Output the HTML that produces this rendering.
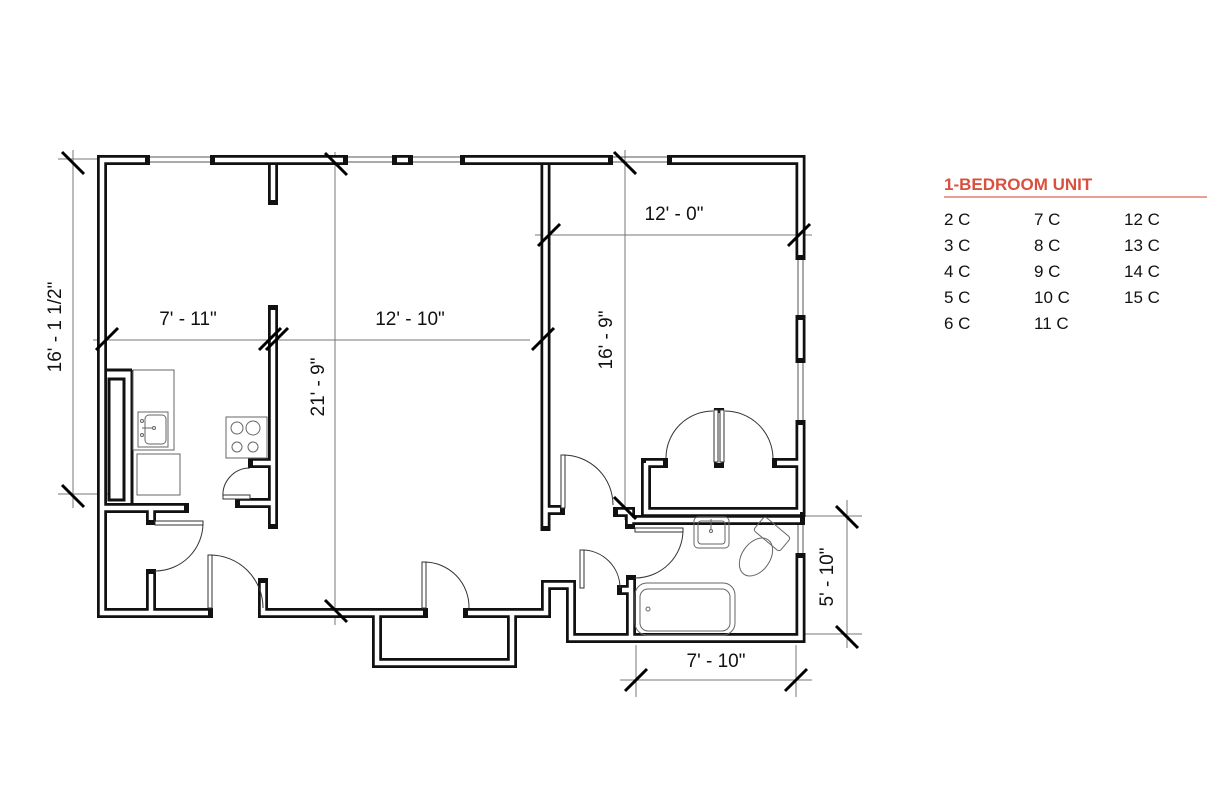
<!DOCTYPE html>
<html><head><meta charset="utf-8"><style>
html,body{margin:0;padding:0;background:#fff;}
svg{display:block;}
text{font-family:"Liberation Sans",sans-serif;}
</style></head><body>
<svg width="1228" height="794" viewBox="0 0 1228 794" xmlns="http://www.w3.org/2000/svg">
<rect width="1228" height="794" fill="#fff"/>
<!-- dimension lines -->
<g stroke="#777" stroke-width="1" fill="none">
<line x1="73" y1="150" x2="73" y2="508"/>
<line x1="58" y1="159" x2="100" y2="159"/>
<line x1="58" y1="494" x2="108" y2="494"/>
<line x1="93" y1="340" x2="530" y2="340"/>
<line x1="335" y1="152" x2="335" y2="625"/>
<line x1="535" y1="235" x2="812" y2="235"/>
<line x1="625" y1="150" x2="625" y2="520"/>
<line x1="847" y1="500" x2="847" y2="648"/>
<line x1="805" y1="516" x2="862" y2="516"/>
<line x1="805" y1="634" x2="862" y2="634"/>
<line x1="620" y1="680" x2="812" y2="680"/>
<line x1="636" y1="645" x2="636" y2="697"/>
<line x1="796" y1="645" x2="796" y2="697"/>
</g>
<!-- windows -->
<g stroke="#555" stroke-width="1" fill="none">
<line x1="145" y1="157" x2="215" y2="157"/><line x1="145" y1="162" x2="215" y2="162"/>
<line x1="343" y1="157" x2="465" y2="157"/><line x1="343" y1="162" x2="465" y2="162"/>
<line x1="608" y1="157" x2="672" y2="157"/><line x1="608" y1="162" x2="672" y2="162"/>
<line x1="798" y1="255" x2="798" y2="425"/><line x1="803" y1="255" x2="803" y2="425"/>
<line x1="798" y1="517" x2="798" y2="558"/><line x1="803" y1="517" x2="803" y2="558"/>
</g>
<!-- walls -->
<g id="walls" fill="none" stroke-linejoin="miter">
<g stroke="#111" stroke-width="10" stroke-linecap="square">
<path d="M145 160 H102 V613 H208"/>
<path d="M215 160 H343"/>
<path d="M397 160 H408"/>
<path d="M465 160 H608"/>
<path d="M672 160 H800.5 V255"/>
<path d="M800.5 320 V358"/>
<path d="M800.5 425 V512"/>
<path d="M800.5 558 V638 H571 V585 H546 V613 H468"/>
<path d="M423 613 H263 V583"/>
<path d="M377 613 V663 H512 V613"/>
<path d="M273 165 V200"/>
<path d="M273 310 V524"/>
<path d="M273 463 H253"/>
<path d="M273 503 H240"/>
<path d="M545.5 165 V526"/>
<path d="M545.5 510 H560"/>
<path d="M102 508 H184"/>
<path d="M151 508 V520"/>
<path d="M151 574 V613"/>
<path d="M646 463 H663"/>
<path d="M646 463 V512 H800"/>
<path d="M777 463 H800"/>
<path d="M719 413 V463"/>
<path d="M618 512 H630 V524"/>
<path d="M630 520 H800"/>
<path d="M631 580 V638"/>
<path d="M622 590 H631"/>
</g>
<g stroke="#fff" stroke-width="4.5" stroke-linecap="butt">
<path d="M145 160 H102 V613 H208"/>
<path d="M215 160 H343"/>
<path d="M397 160 H408"/>
<path d="M465 160 H608"/>
<path d="M672 160 H800.5 V255"/>
<path d="M800.5 320 V358"/>
<path d="M800.5 425 V512"/>
<path d="M800.5 558 V638 H571 V585 H546 V613 H468"/>
<path d="M423 613 H263 V583"/>
<path d="M377 613 V663 H512 V613"/>
<path d="M273 165 V200"/>
<path d="M273 310 V524"/>
<path d="M273 463 H253"/>
<path d="M273 503 H240"/>
<path d="M545.5 165 V526"/>
<path d="M545.5 510 H560"/>
<path d="M102 508 H184"/>
<path d="M151 508 V520"/>
<path d="M151 574 V613"/>
<path d="M646 463 H663"/>
<path d="M646 463 V512 H800"/>
<path d="M777 463 H800"/>
<path d="M719 413 V463"/>
<path d="M618 512 H630 V524"/>
<path d="M630 520 H800"/>
<path d="M631 580 V638"/>
<path d="M622 590 H631"/>
</g>
</g>
<!-- kitchen pocket -->
<rect x="109" y="379" width="15" height="121" fill="#fff" stroke="#111" stroke-width="3"/>
<line x1="132" y1="370" x2="132" y2="505" stroke="#111" stroke-width="3"/>
<line x1="107" y1="370" x2="132" y2="370" stroke="#111" stroke-width="3"/>
<!-- fixtures -->
<g fill="none" stroke="#666" stroke-width="1">
<rect x="133" y="370" width="41" height="80"/>
<rect x="138" y="412" width="30" height="35"/>
<rect x="145" y="415" width="21" height="29" rx="4"/>
<circle cx="142" cy="421" r="1.5"/><circle cx="142" cy="435" r="1.5"/><circle cx="154" cy="428" r="1.5"/>
<line x1="142" y1="428" x2="152" y2="428"/>
<rect x="137" y="454" width="43" height="41"/>
<rect x="226" y="417" width="41" height="41"/>
<circle cx="237" cy="428" r="6"/><circle cx="253" cy="428" r="7"/>
<circle cx="237" cy="447" r="5"/><circle cx="253" cy="447" r="5"/>
<rect x="694" y="517" width="35" height="31" rx="4"/>
<rect x="698" y="521" width="27" height="23" rx="3"/>
<circle cx="711" cy="531" r="1.5"/><line x1="711" y1="519" x2="711" y2="530"/>
<g transform="translate(772,534) rotate(40)"><rect x="-17" y="-9" width="34" height="18" rx="3"/></g>
<ellipse cx="756" cy="557" rx="14" ry="21" transform="rotate(35 756 557)"/>
<rect x="635" y="583" width="100" height="52" rx="12"/>
<rect x="640" y="589" width="90" height="42" rx="8"/>
<circle cx="648" cy="609" r="2"/>
</g>
<!-- doors -->
<g fill="none" stroke="#333" stroke-width="1">
<rect x="155" y="521" width="48" height="4" fill="#fff"/>
<path d="M203 523 A48 48 0 0 1 155 571"/>
<rect x="208" y="555" width="4" height="53" fill="#fff"/>
<path d="M210 555 A53 53 0 0 1 263 608"/>
<rect x="422" y="562" width="4" height="46" fill="#fff"/>
<path d="M424 562 A45 45 0 0 1 469 608"/>
<rect x="223" y="495" width="27" height="4" fill="#fff"/>
<path d="M223 497 A27 27 0 0 1 250 468"/>
<rect x="561" y="455" width="4" height="53" fill="#fff"/>
<path d="M563 455 A50 50 0 0 1 613 505"/>
<rect x="714" y="410" width="4" height="52" fill="#fff"/>
<rect x="720" y="410" width="4" height="52" fill="#fff"/>
<path d="M666 458 A47 47 0 0 1 713 411"/>
<path d="M725 411 A48 48 0 0 1 773 458"/>
<rect x="635" y="528" width="48" height="4" fill="#fff"/>
<path d="M683 530 A48 48 0 0 1 635 578"/>
<rect x="580" y="550" width="4" height="38" fill="#fff"/>
<path d="M582 550 A38 38 0 0 1 620 588"/>
</g>
<!-- ticks -->
<g stroke="#000" stroke-width="3" stroke-linecap="butt">
<line x1="62" y1="152" x2="84" y2="174"/>
<line x1="62" y1="485" x2="84" y2="507"/>
<line x1="96" y1="350" x2="118" y2="328"/>
<line x1="259" y1="350" x2="281" y2="328"/>
<line x1="266" y1="350" x2="288" y2="328"/>
<line x1="532" y1="350" x2="554" y2="328"/>
<line x1="325" y1="153" x2="347" y2="175"/>
<line x1="325" y1="600" x2="347" y2="622"/>
<line x1="538" y1="246" x2="560" y2="224"/>
<line x1="788" y1="246" x2="810" y2="224"/>
<line x1="614" y1="152" x2="636" y2="174"/>
<line x1="614" y1="497" x2="636" y2="519"/>
<line x1="836" y1="506" x2="858" y2="528"/>
<line x1="836" y1="626" x2="858" y2="648"/>
<line x1="625" y1="691" x2="647" y2="669"/>
<line x1="785" y1="691" x2="807" y2="669"/>
</g>
<!-- labels -->
<g font-size="19" fill="#111">
<text x="188" y="325" text-anchor="middle">7' - 11"</text>
<text x="410" y="325" text-anchor="middle">12' - 10"</text>
<text x="674" y="220" text-anchor="middle">12' - 0"</text>
<text x="716" y="667" text-anchor="middle">7' - 10"</text>
<text transform="translate(61,327) rotate(-90)" text-anchor="middle">16' - 1 1/2"</text>
<text transform="translate(324,387) rotate(-90)" text-anchor="middle">21' - 9"</text>
<text transform="translate(612,340) rotate(-90)" text-anchor="middle">16' - 9"</text>
<text transform="translate(833,577) rotate(-90)" text-anchor="middle">5' - 10"</text>
</g>
<!-- legend -->
<text x="944" y="190" font-size="17" font-weight="bold" fill="#d9503f">1-BEDROOM UNIT</text>
<line x1="944" y1="197" x2="1207" y2="197" stroke="#e8a093" stroke-width="2"/>
<g font-size="17" fill="#111">
<text x="944" y="225">2 C</text><text x="944" y="251">3 C</text><text x="944" y="277">4 C</text><text x="944" y="303">5 C</text><text x="944" y="329">6 C</text>
<text x="1034" y="225">7 C</text><text x="1034" y="251">8 C</text><text x="1034" y="277">9 C</text><text x="1034" y="303">10 C</text><text x="1034" y="329">11 C</text>
<text x="1124" y="225">12 C</text><text x="1124" y="251">13 C</text><text x="1124" y="277">14 C</text><text x="1124" y="303">15 C</text>
</g>
</svg>
</body></html>
